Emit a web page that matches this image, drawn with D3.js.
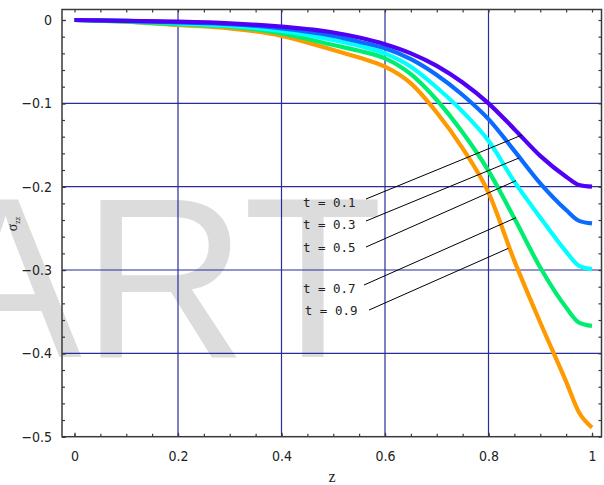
<!DOCTYPE html>
<html>
<head>
<meta charset="utf-8">
<script src="https://cdn.jsdelivr.net/npm/d3@7"></script>
<style>
  body { margin: 0; background: #fff; }
  svg { display: block; }
</style>
</head>
<body>
<script>
// chart data
var zValues = [0, 0.1, 0.2, 0.3, 0.4, 0.5, 0.55, 0.6, 0.65, 0.7, 0.75, 0.8, 0.85, 0.9, 0.95, 0.975, 1];
var sigmaT01 = [0, -0.001, -0.002, -0.004, -0.008, -0.015, -0.021, -0.029, -0.040, -0.055, -0.075, -0.100, -0.131, -0.163, -0.188, -0.198, -0.2];
var sigmaT03 = [0, -0.001, -0.003, -0.005, -0.010, -0.019, -0.026, -0.034, -0.047, -0.066, -0.090, -0.119, -0.157, -0.196, -0.228, -0.241, -0.244];
var sigmaT05 = [0, -0.001, -0.004, -0.007, -0.013, -0.024, -0.031, -0.040, -0.056, -0.081, -0.110, -0.145, -0.194, -0.237, -0.278, -0.295, -0.299];
var sigmaT07 = [0, -0.002, -0.005, -0.008, -0.016, -0.030, -0.037, -0.046, -0.065, -0.096, -0.135, -0.181, -0.238, -0.297, -0.345, -0.363, -0.367];
var sigmaT09 = [0, -0.002, -0.006, -0.010, -0.019, -0.036, -0.045, -0.056, -0.076, -0.111, -0.154, -0.207, -0.289, -0.363, -0.434, -0.471, -0.489];

var seriesNames = ["t = 0.1", "t = 0.3", "t = 0.5", "t = 0.7", "t = 0.9"];
var seriesColors = ["#4f00f5", "#0a6cff", "#00ffff", "#00ee70", "#ff9900"];

// label anchors [z, sigma]: text position, leader start, leader end
var labelPos = [[0.4415, -0.224], [0.4415, -0.2504], [0.4415, -0.2788], [0.4415, -0.328], [0.445, -0.354]];
var leaderStart = [[0.5633, -0.2148], [0.5633, -0.2412], [0.5633, -0.2724], [0.5594, -0.318], [0.5691, -0.348]];
var leaderEnd = [[0.8647, -0.138], [0.8589, -0.1656], [0.8531, -0.1928], [0.8531, -0.2372], [0.8383, -0.274]];

var xTicks = [0, 0.2, 0.4, 0.6, 0.8, 1];
var xTickLabels = ["0", "0.2", "0.4", "0.6", "0.8", "1"];
var yTicks = [0, -0.1, -0.2, -0.3, -0.4, -0.5];
var yTickLabels = ["0", "\u22120.1", "\u22120.2", "\u22120.3", "\u22120.4", "\u22120.5"];

var svgWidth = 604;
var svgHeight = 485;

// frame edges in pixels
var frame = { left: 62, top: 9.5, right: 601.5, bottom: 436.7 };

var svg = d3.select("body")
  .append("svg")
  .attr("width", svgWidth)
  .attr("height", svgHeight);

var x = d3.scaleLinear().domain([0, 1]).range([74.5, 592]);
var y = d3.scaleLinear().domain([0, -0.5]).range([20, frame.bottom]);

// watermark behind everything
svg.append("text")
  .attr("x", -71)
  .attr("y", 357)
  .style("font-family", "'Liberation Sans', Arial, sans-serif")
  .style("font-size", "229px")
  .attr("fill", "#dcdcdc")
  .text("ART");

// grid lines
var gridColor = "#2b2b9c";
svg.append("g").selectAll("line")
  .data(yTicks.slice(1, 5))
  .enter().append("line")
  .attr("x1", frame.left).attr("x2", frame.right)
  .attr("y1", d => y(d)).attr("y2", d => y(d))
  .attr("stroke", gridColor).attr("stroke-width", 1.2);

svg.append("g").selectAll("line")
  .data(xTicks.slice(1, 5))
  .enter().append("line")
  .attr("y1", frame.top).attr("y2", frame.bottom)
  .attr("x1", d => x(d)).attr("x2", d => x(d))
  .attr("stroke", gridColor).attr("stroke-width", 1.2);

// curves, last series first so t = 0.1 ends on top
var allSeries = [sigmaT01, sigmaT03, sigmaT05, sigmaT07, sigmaT09];
var line = d3.line()
  .x(d => x(d[0]))
  .y(d => y(d[1]))
  .curve(d3.curveMonotoneX);

var seriesData = allSeries.map((vals, i) => ({
  name: seriesNames[i],
  color: seriesColors[i],
  points: zValues.map((z, j) => [z, vals[j]])
}));

svg.append("g").selectAll("path")
  .data(seriesData.slice().reverse())
  .enter().append("path")
  .attr("d", d => line(d.points))
  .attr("fill", "none")
  .attr("stroke", d => d.color)
  .attr("stroke-width", 4.2)
  .attr("stroke-linejoin", "round");

// frame with ticks on all four sides
var axisColor = "#3a3a3a";
var xMinor = d3.range(0, 1.0001, 0.05);
var yMinor = d3.range(0, -0.5001, -0.02);

var bottomMinor = svg.append("g")
  .attr("transform", `translate(0, ${frame.bottom})`)
  .call(d3.axisBottom(x).tickValues(xMinor).tickSize(-3).tickFormat(""));
var bottomMajor = svg.append("g")
  .attr("transform", `translate(0, ${frame.bottom})`)
  .call(d3.axisBottom(x).tickValues(xTicks).tickSize(-4).tickPadding(14)
    .tickFormat((d, i) => xTickLabels[i]));
var topMinor = svg.append("g")
  .attr("transform", `translate(0, ${frame.top})`)
  .call(d3.axisTop(x).tickValues(xMinor).tickSize(-3).tickFormat(""));
var leftMinor = svg.append("g")
  .attr("transform", `translate(${frame.left}, 0)`)
  .call(d3.axisLeft(y).tickValues(yMinor).tickSize(-3).tickFormat(""));
var leftMajor = svg.append("g")
  .attr("transform", `translate(${frame.left}, 0)`)
  .call(d3.axisLeft(y).tickValues(yTicks).tickSize(-4).tickPadding(10)
    .tickFormat((d, i) => yTickLabels[i]));
var rightMinor = svg.append("g")
  .attr("transform", `translate(${frame.right}, 0)`)
  .call(d3.axisRight(y).tickValues(yMinor).tickSize(-3).tickFormat(""));

[bottomMinor, bottomMajor, topMinor, leftMinor, leftMajor, rightMinor].forEach(function(g) {
  g.select(".domain").remove();
  g.selectAll(".tick line").attr("stroke", axisColor).attr("stroke-width", 1.2);
  g.selectAll("text")
    .attr("fill", "#222")
    .style("font-family", "'Liberation Sans Narrow', 'DejaVu Sans Condensed', 'Liberation Sans', sans-serif")
    .style("font-size", "14px");
});

svg.append("rect")
  .attr("x", frame.left).attr("y", frame.top)
  .attr("width", frame.right - frame.left)
  .attr("height", frame.bottom - frame.top)
  .attr("fill", "none")
  .attr("stroke", axisColor)
  .attr("stroke-width", 1.5);

// series labels with leader lines
svg.append("g").selectAll("line")
  .data(seriesNames)
  .enter().append("line")
  .attr("x1", (d, i) => x(leaderStart[i][0]))
  .attr("y1", (d, i) => y(leaderStart[i][1]))
  .attr("x2", (d, i) => x(leaderEnd[i][0]))
  .attr("y2", (d, i) => y(leaderEnd[i][1]))
  .attr("stroke", "#000")
  .attr("stroke-width", 1);

svg.append("g").selectAll("text")
  .data(seriesNames)
  .enter().append("text")
  .attr("x", (d, i) => x(labelPos[i][0]))
  .attr("y", (d, i) => y(labelPos[i][1]))
  .style("font-family", "'DejaVu Sans Mono', 'Liberation Mono', monospace")
  .style("font-size", "12.5px")
  .attr("fill", "#222")
  .attr("xml:space", "preserve")
  .text(d => d);

// axis titles
svg.append("text")
  .attr("x", 332)
  .attr("y", 482)
  .attr("text-anchor", "middle")
  .style("font-family", "'Liberation Serif', 'Times New Roman', serif")
  .style("font-size", "16px")
  .attr("fill", "#222")
  .text("z");

var yTitle = svg.append("text")
  .attr("transform", "translate(17, 224) rotate(-90)")
  .attr("text-anchor", "middle")
  .style("font-family", "'Liberation Serif', 'Times New Roman', serif")
  .style("font-size", "14px")
  .attr("fill", "#222");
yTitle.append("tspan").text("\u03c3");
yTitle.append("tspan")
  .attr("dy", 3)
  .style("font-size", "8px")
  .text("zz");
</script>
</body>
</html>
